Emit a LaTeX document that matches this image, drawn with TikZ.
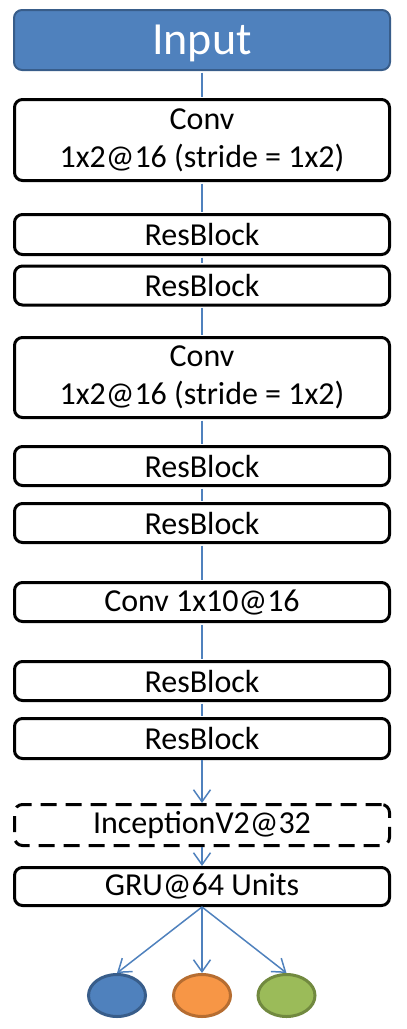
\documentclass[tikz,border=0pt]{standalone}
\usepackage{fontspec}
\setmainfont{Carlito}
\usetikzlibrary{arrows.meta,shapes.geometric}

\definecolor{cBlue}{HTML}{4F81BD}
\definecolor{cBlueLine}{HTML}{385D8A}
\definecolor{cOrange}{HTML}{F79646}
\definecolor{cOrangeLine}{HTML}{B66D31}
\definecolor{cGreen}{HTML}{9BBB59}
\definecolor{cGreenLine}{HTML}{71893F}

\tikzset{
    layer/.style={draw=black, line width=3pt, rounded corners=8pt, fill=white,
        minimum width=375pt, inner sep=0pt, align=center,
        font=\fontsize{32}{38}\selectfont},
    flow/.style={draw=cBlue, line width=1.5pt},
    flowtip/.style={flow, -{Straight Barb[length=12pt,width=17pt,line width=1.5pt]}},
    outnode/.style={ellipse, line width=3pt, minimum width=57pt,
        minimum height=42pt, inner sep=0pt}
}

\begin{document}
\begin{tikzpicture}[x=1pt,y=-1pt]

\useasboundingbox (0,0) rectangle (407,1029);

\node[draw=cBlueLine, fill=cBlue, line width=2pt, rounded corners=8pt,
    minimum width=376pt, minimum height=60pt, inner sep=0pt, text=white,
    text depth=0pt, font=\fontsize{46}{50}\selectfont] (nInput) at (202,40) {Input};

\foreach \n/\y/\h/\t in
{   nConvA/140/81/{Conv\\1x2@16 (stride = 1x2)},
    nResA/234.5/40/{ResBlock},
    nResB/285.5/39/{ResBlock},
    nConvB/377.5/80/{Conv\\1x2@16 (stride = 1x2)},
    nResC/466/39/{ResBlock},
    nResD/523/39/{ResBlock},
    nConvC/602/39/{Conv 1x10@16},
    nResE/681/39/{ResBlock},
    nResF/738.5/40/{ResBlock},
    nGRU/886.5/38/{GRU@64 Units}}
{
    \node[layer, minimum height=\h pt] (\n) at (202,\y) {\t};
};

\node[layer, minimum height=41pt, rounded corners=8pt,
    dash pattern=on 16pt off 9pt] (nIncep) at (202,825) {InceptionV2@32};

\node[outnode, draw=cBlueLine, fill=cBlue] (nOutA) at (117,995.5) {};
\node[outnode, draw=cOrangeLine, fill=cOrange] (nOutB) at (202,995.5) {};
\node[outnode, draw=cGreenLine, fill=cGreen] (nOutC) at (286.5,995.5) {};

\foreach \a/\b in
{   nInput/nConvA, nConvA/nResA, nResA/nResB, nResB/nConvB,
    nConvB/nResC, nResC/nResD, nResD/nConvC, nConvC/nResE, nResE/nResF}
{
    \draw[flow, shorten <=1.5pt, shorten >=1.5pt] (\a.south) -- (\b.north);
};

\draw[flowtip] (nResF.south) -- (nIncep.north);
\draw[flowtip] (nIncep.south) -- (nGRU.north);
\foreach \b in {nOutA, nOutB, nOutC}
{
    \draw[flowtip] (nGRU.south) -- (\b.north);
};

\end{tikzpicture}
\end{document}
